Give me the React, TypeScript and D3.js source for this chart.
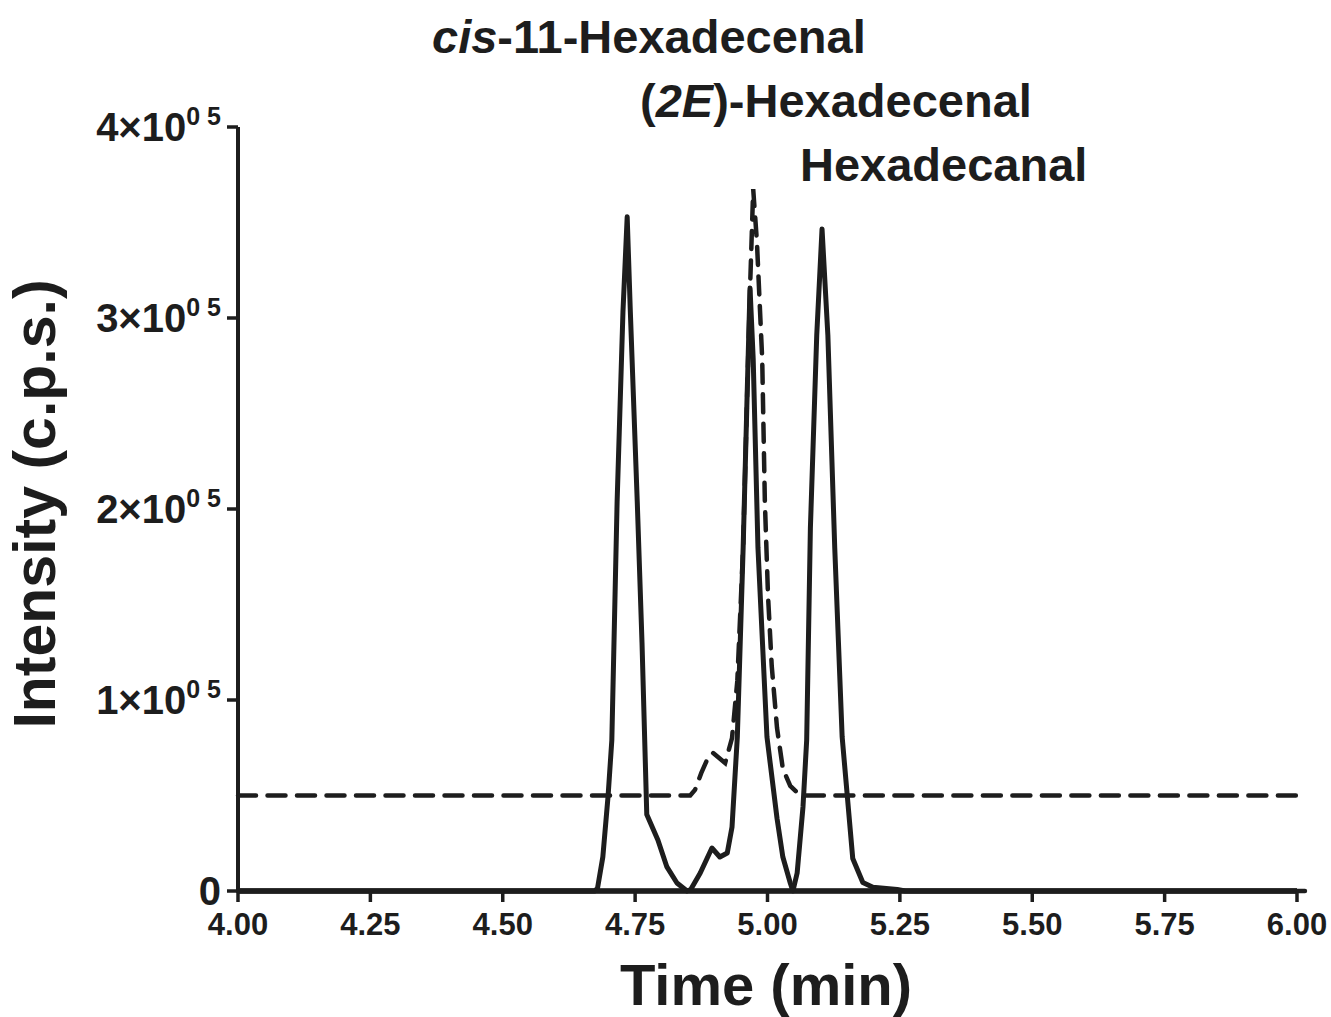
import * as d3 from 'd3'
import { useEffect, useRef } from 'react';

// retention time (min) / intensity (c.p.s.)
const cis11Peak: [number, number][] = [
    [4.00, 0], [4.674, 0], [4.679, 1500], [4.689, 17800], [4.699, 50000], [4.706, 79000],
    [4.716, 204000], [4.727, 303000], [4.735, 353000], [4.741, 303000], [4.754, 204000],
    [4.763, 130000], [4.772, 40000], [4.793, 26700], [4.810, 12600], [4.829, 4200],
    [4.848, 0], [6.00, 0]
];

const e2Peak: [number, number][] = [
    [4.00, 0], [4.848, 0], [4.855, 800], [4.873, 9400], [4.895, 22500], [4.910, 17800],
    [4.924, 19900], [4.933, 33500], [4.939, 61800], [4.943, 80600], [4.954, 179600],
    [4.961, 254000], [4.967, 315700], [4.973, 278500], [4.982, 179600], [4.999, 80600],
    [5.018, 38000], [5.029, 17800], [5.043, 4200], [5.048, 0], [6.00, 0]
];

const hexadecanalPeak: [number, number][] = [
    [4.00, 0], [5.048, 0], [5.056, 9400], [5.067, 44000], [5.074, 79000], [5.081, 190000],
    [5.093, 291000], [5.103, 346600], [5.114, 291000], [5.127, 179600], [5.141, 80600],
    [5.161, 17000], [5.180, 4500], [5.199, 2000], [5.245, 800], [5.26, 0], [6.00, 0]
];

// dashed trace sits on a 5x10^4 offset
const dashedTrace: [number, number][] = [
    [4.00, 50000], [4.854, 50000], [4.863, 52900], [4.875, 61800], [4.888, 70000],
    [4.897, 72300], [4.920, 67000], [4.933, 80000], [4.943, 110000], [4.954, 180000],
    [4.961, 254000], [4.967, 315000], [4.973, 367500], [4.980, 340000], [4.990, 278500],
    [4.995, 204000], [5.001, 154500], [5.008, 117800], [5.018, 85300], [5.029, 64000],
    [5.043, 55000], [5.058, 51000], [5.067, 50000], [6.015, 50000]
];

const timeTicks = [4.00, 4.25, 4.50, 4.75, 5.00, 5.25, 5.50, 5.75, 6.00];
const intensityTicks = [0, 100000, 200000, 300000, 400000];

const ink = "#1d1d1d";
const font = "'Liberation Sans', Arial, sans-serif";

function drawChart( svgEl: SVGSVGElement ) {
    const svg = d3.select( svgEl );
    svg.selectAll( "*" ).remove();

    const x = d3.scaleLinear().domain( [4, 6] ).range( [238, 1297] );
    const y = d3.scaleLinear().domain( [0, 400000] ).range( [891, 127] );

    const line = d3.line<[number, number]>()
        .x( d => x( d[0] ) ).y( d => y( d[1] ) );

    // traces
    [cis11Peak, e2Peak, hexadecanalPeak].forEach( s => {
        svg.append( "path" ).datum( s )
            .attr( "d", line )
            .attr( "fill", "none" ).attr( "stroke", ink )
            .attr( "stroke-width", 5 ).attr( "stroke-linejoin", "round" );
    } );

    svg.append( "path" ).datum( dashedTrace )
        .attr( "d", line )
        .attr( "fill", "none" ).attr( "stroke", ink )
        .attr( "stroke-width", 4.5 ).attr( "stroke-linecap", "round" )
        .attr( "stroke-dasharray", "18,11.5" );

    // axes
    svg.append( "line" )
        .attr( "x1", x( 4 ) ).attr( "x2", x( 4 ) )
        .attr( "y1", y( 400000 ) ).attr( "y2", y( 0 ) )
        .attr( "stroke", ink ).attr( "stroke-width", 4 );
    svg.append( "line" )
        .attr( "x1", x( 4 ) ).attr( "x2", x( 6.015 ) )
        .attr( "y1", y( 0 ) ).attr( "y2", y( 0 ) )
        .attr( "stroke", ink ).attr( "stroke-width", 4.5 ).attr( "stroke-linecap", "round" );

    const xt = svg.append( "g" ).selectAll( "g" ).data( timeTicks ).enter().append( "g" )
        .attr( "transform", d => "translate(" + x( d ) + "," + y( 0 ) + ")" );
    xt.append( "line" ).attr( "y1", 0 ).attr( "y2", 11 )
        .attr( "stroke", ink ).attr( "stroke-width", 3.5 );
    xt.append( "text" ).attr( "y", 44 )
        .attr( "text-anchor", "middle" )
        .attr( "font-family", font ).attr( "font-weight", "bold" ).attr( "font-size", 31 )
        .attr( "fill", ink )
        .text( d => d.toFixed( 2 ) );

    const yt = svg.append( "g" ).selectAll( "g" ).data( intensityTicks ).enter().append( "g" )
        .attr( "transform", d => "translate(" + x( 4 ) + "," + y( d ) + ")" );
    yt.append( "line" ).attr( "x1", -11 ).attr( "x2", 0 )
        .attr( "stroke", ink ).attr( "stroke-width", 3.5 );
    yt.each( function( d ) {
        const t = d3.select( this ).append( "text" )
            .attr( "x", -17 ).attr( "y", 14 )
            .attr( "text-anchor", "end" )
            .attr( "font-family", font ).attr( "font-weight", "bold" ).attr( "font-size", 40 )
            .attr( "fill", ink );
        if ( d === 0 ) {
            t.text( "0" );
        } else {
            t.append( "tspan" ).text( ( d / 100000 ) + "\u00d710" );
            t.append( "tspan" ).attr( "font-size", 25 ).attr( "dy", -16 ).text( "0 5" );
        }
    } );

    // axis titles
    svg.append( "text" )
        .attr( "x", 766 ).attr( "y", 1005 )
        .attr( "text-anchor", "middle" )
        .attr( "font-family", font ).attr( "font-weight", "bold" ).attr( "font-size", 58 )
        .attr( "fill", ink )
        .text( "Time (min)" );

    svg.append( "text" )
        .attr( "transform", "translate(55,504) rotate(-90)" )
        .attr( "text-anchor", "middle" )
        .attr( "font-family", font ).attr( "font-weight", "bold" ).attr( "font-size", 59 )
        .attr( "fill", ink )
        .text( "Intensity (c.p.s.)" );

    // peak labels
    const lab = ( xx: number, yy: number ) => svg.append( "text" )
        .attr( "x", xx ).attr( "y", yy )
        .attr( "font-family", font ).attr( "font-weight", "bold" ).attr( "font-size", 47 )
        .attr( "fill", ink );

    const l1 = lab( 432, 53 );
    l1.append( "tspan" ).attr( "font-style", "italic" ).text( "cis" );
    l1.append( "tspan" ).text( "-11-Hexadecenal" );

    const l2 = lab( 640, 117 );
    l2.append( "tspan" ).text( "(" );
    l2.append( "tspan" ).attr( "font-style", "italic" ).text( "2E" );
    l2.append( "tspan" ).text( ")-Hexadecenal" );

    lab( 800, 181 ).text( "Hexadecanal" );
}

function App() {
    const ref = useRef<SVGSVGElement>( null );

    useEffect( () => {
        if ( ref.current ) drawChart( ref.current );
    } );

    return (
        <svg ref={ref} width="1331" height="1017"
            style={{ position: "absolute", left: 0, top: 0, background: "white" }}>
        </svg>
    );
}

export default App;
